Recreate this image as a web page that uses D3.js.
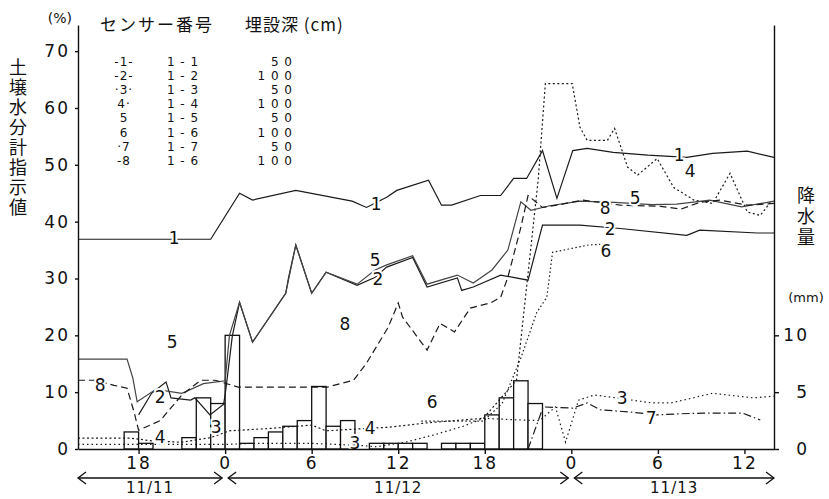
<!DOCTYPE html>
<html>
<head>
<meta charset="utf-8">
<script src="https://cdn.jsdelivr.net/npm/d3@7"></script>
<style>
body{margin:0;background:#fff}
text{font-family:"DejaVu Sans","Noto Sans CJK JP",sans-serif;fill:#111}
.jp{font-family:"Noto Sans CJK JP",sans-serif}
.vert{writing-mode:vertical-rl}
.tick text{font-size:17px;letter-spacing:2px}
.tick line,.domain{stroke:#111;stroke-width:1.4}
</style>
</head>
<body>
<svg id="chart" width="829" height="499"></svg>
<script>
// hours counted from 11/11 0:00
const hourTicks = [18,24,30,36,42,48,54,60]
const days = [['11/11',13.8,24],['11/12',24,48],['11/13',48,62.05]]
const pctTicks = [0,10,20,30,40,50,60,70]
const mmTicks = [0,5,10]

const rainHours = [17,18,21,22,23,24,25,26,27,28,29,30,31,32,34,35,36,37,39,40,41,42,43,44,45]
const rainMm = [1.5,0.5,1,4.5,4,10,0.5,1,1.5,2,2.5,5.5,2,2.5,0.5,0.5,0.5,0.5,0.5,0.5,0.5,3,4.5,6,4]

const s1 = [[13.8,36.9],[23.0,36.9],[25.0,45.0],[25.9,43.8],[28.9,45.5],[32.8,43.6],[33.8,42.5],[35.2,44.3],[35.9,45.5],[38.1,47.3],[39.0,42.9],[39.7,42.9],[41.7,44.6],[43.1,44.6],[44.0,47.6],[44.9,47.6],[46.0,52.5],[47.0,44.1],[48.1,52.5],[49.1,52.9],[50.9,52.2],[53.3,51.7],[56.0,51.3],[57.8,52.0],[60.2,52.4],[62.05,51.3]]
const s2 = [[18.0,6.0],[18.9,9.8],[19.9,11.8],[20.25,9.0],[21.6,8.6],[21.9,9.0],[22.95,6.0],[23.9,7.9],[24.06,10.7],[24.5,19.9],[25.0,25.8],[25.9,18.8],[28.2,27.4],[28.4,30.2],[28.9,35.9],[30.0,27.4],[31.0,31.1],[33.15,28.8],[34.4,30.2],[35.2,32.0],[37.0,33.7],[38.0,28.5],[40.1,30.1],[40.4,27.9],[41.2,28.5],[43.1,30.6],[45.0,29.7],[46.0,39.4],[48.6,39.4],[51.4,38.8],[56.0,37.6],[56.9,38.5],[60.9,38.0],[62.05,38.0]]
const s3 = [[13.8,0.8],[24.0,0.8],[26,1.0],[30,1.0],[33.5,0.6],[34.5,0.4],[36.5,1.2],[38.5,2.5],[40.5,4.0],[41.9,5.4],[44.5,5.1],[45.8,5.0],[46.9,7.4],[47.6,1.2],[48.5,8.6],[49.6,9.5],[51.1,9.0],[53.6,8.1],[54.9,8.1],[57.8,9.8],[60.6,9.0],[62.05,9.3]]
const s4 = [[13.8,1.9],[17.5,1.9],[19.0,1.4],[21.0,1.2],[23.0,2.0],[24.3,3.2],[27.0,3.6],[30.0,4.2],[31.0,3.2],[33.0,3.5],[35.2,3.8],[38.0,4.6],[41.9,5.4],[44.2,12.1],[45.7,47.3],[46.2,64.3],[48.06,64.3],[48.6,56.6],[49.1,54.3],[50.5,54.3],[51.0,56.4],[51.9,49.6],[52.6,48.2],[53.95,51.1],[55.1,46.0],[56.5,43.8],[57.8,43.2],[59.0,48.5],[60.2,41.7],[61.1,41.1],[61.8,43.4]]
const s5 = [[13.8,15.8],[17.2,15.8],[17.6,12.5],[17.9,8.3],[19.2,10.5],[21,9.8],[22.5,11.5],[24.0,12.0],[24.3,20.0],[25.0,25.8],[25.9,18.8],[28.2,27.4],[28.9,35.9],[30.0,27.4],[31.0,31.1],[33.15,29.0],[34.4,31.5],[35.2,32.4],[37.0,34.0],[38.0,29.0],[40.1,30.6],[41.2,29.2],[42.5,31.5],[43.6,35],[44.5,43.5],[45.2,42.0],[46.5,42.8],[48.6,43.6],[51,43.4],[53.6,43.0],[55.3,43.1],[57.6,43.8],[59.8,42.6],[62.05,43.6]]
const s6 = [[37.6,4.9],[41.9,4.9],[43.2,8.0],[44.5,16.0],[45.6,24.0],[46.3,26.7],[46.7,34.6],[49.2,35.9],[50.0,36.0]]
const s7 = [[45.0,0],[46.05,7.4],[48.1,7.2],[49.1,8.1],[50.0,6.9],[52.1,6.5],[53.95,6.0],[55.55,6.2],[57.1,6.3],[59.9,6.3],[61.1,5.1]]
const s8 = [[13.8,12.1],[15.0,12.1],[16.3,11.2],[17.2,10.7],[17.7,6.4],[18.0,3.3],[19.5,5.0],[21.0,9.5],[22.3,12.1],[23.3,12.1],[24.9,10.9],[31.1,10.9],[32.9,12.1],[33.8,15.1],[35.3,21.4],[36.0,25.7],[36.3,23.2],[38.0,17.4],[38.9,22.1],[39.9,20.6],[41.0,24.8],[42.4,25.7],[43.1,26.7],[43.6,30.2],[44.5,39.0],[45.0,44.6],[46.0,42.5],[47.0,42.9],[48.8,43.8],[51.4,42.9],[54.2,42.7],[55.6,42.2],[56.9,43.4],[58.3,43.8],[60.2,42.9],[62.05,43.2]]

const series = [s1,s2,s3,s4,s5,s6,s7,s8]
const dashes = ['none','none','1.5,3','2,2.5','none','1.5,2.5','8,3,1.5,3','7,4']

const legendMarks = ['-1-','-2-','·3·','4·','5','6','·7','-8']
const legendSensors = ['1 - 1','1 - 2','1 - 3','1 - 4','1 - 5','1 - 6','1 - 7','1 - 6']
const legendDepths = ['5 0','1 0 0','5 0','1 0 0','5 0','1 0 0','5 0','1 0 0']

const annot = [['1',20.46,37.1],['1',34.47,43.1],['1',55.48,51.7],
  ['2',19.49,9.1],['2',34.6,30.0],['2',50.69,38.8],
  ['3',23.37,3.9],['3',33.0,1.05],['3',51.53,9.0],
  ['4',19.49,2.1],['4',34.05,3.7],['4',56.24,49.0],
  ['5',20.32,18.8],['5',34.4,33.2],['5',52.43,44.1],
  ['6',38.35,8.3],['6',50.4,34.8],
  ['7',53.54,5.4],
  ['8',15.33,11.2],['8',32.3,22.1],['8',50.35,42.4]]

const svg = d3.select('#chart')

const x = d3.scaleLinear().domain([13.8,62.05]).range([78,774])
const yL = d3.scaleLinear().domain([0,74.6]).range([449,25])
const yR = d3.scaleLinear().domain([0,37.3]).range([449,25])

// rain bars (right axis)
svg.append('g').selectAll('rect')
  .data(rainHours)
  .enter().append('rect')
  .attr('x', d => x(d))
  .attr('width', d => x(d+1)-x(d))
  .attr('y', (d,i) => yR(rainMm[i]))
  .attr('height', (d,i) => yR(0)-yR(rainMm[i]))
  .attr('fill','#fff')
  .attr('stroke','#111')
  .attr('stroke-width',1.3)

const line = d3.line().x(d => x(d[0])).y(d => yL(d[1]))

svg.append('g').selectAll('path')
  .data(series)
  .enter().append('path')
  .attr('d', line)
  .attr('fill','none')
  .attr('stroke', (d,i) => i==4 ? '#444' : '#1a1a1a')
  .attr('stroke-width',1.2)
  .attr('stroke-dasharray', (d,i) => dashes[i])

svg.append('g').selectAll('text')
  .data(annot)
  .enter().append('text')
  .attr('x', d => x(d[1]))
  .attr('y', d => yL(d[2]))
  .attr('dy','0.36em')
  .attr('text-anchor','middle')
  .style('font-size','17px')
  .style('stroke','#fff')
  .style('stroke-width',4)
  .style('paint-order','stroke')
  .text(d => d[0])

// axes
const xAxis = d3.axisBottom(x).tickValues(hourTicks).tickFormat(d => d%24).tickSize(5).tickSizeOuter(0).tickPadding(3)
svg.append('g').attr('transform','translate(0,449)').call(xAxis)

const leftAxis = d3.axisLeft(yL).tickValues(pctTicks).tickSize(3).tickSizeOuter(0).tickPadding(5)
svg.append('g').attr('transform','translate(78,0)').call(leftAxis)

const rightAxis = d3.axisRight(yR).tickValues(mmTicks).tickSize(5).tickSizeOuter(0)
const gR = svg.append('g').attr('transform','translate(774,0)').call(rightAxis)
gR.selectAll('text').attr('x',35).attr('text-anchor','end')

// day arrows
const gd = svg.append('g')
days.forEach(([lab,a,b],i) => {
  const x0 = x(a)+(i>0?3:0), x1 = x(b)-(i<2?3:0)
  gd.append('line').attr('x1',x0).attr('x2',x1).attr('y1',478).attr('y2',478).attr('stroke','#111').attr('stroke-width',1.3)
  gd.append('path').attr('d',`M${x0+8},472L${x0},478L${x0+8},484`).attr('fill','none').attr('stroke','#111').attr('stroke-width',1.3)
  gd.append('path').attr('d',`M${x1-8},472L${x1},478L${x1-8},484`).attr('fill','none').attr('stroke','#111').attr('stroke-width',1.3)
  gd.append('text').attr('x',(x0+x1)/2).attr('y',493).attr('text-anchor','middle')
    .style('font-size','15px').style('letter-spacing','1px').text(lab)
})

// titles
svg.append('text').attr('x',72).attr('y',23).attr('text-anchor','end').style('font-size','14px').text('(%)')
svg.append('text').attr('class','jp vert').attr('x',18).attr('y',58)
  .style('font-size','18px').style('letter-spacing','2px').text('土壌水分計指示値')
svg.append('text').attr('class','jp vert').attr('x',806).attr('y',186)
  .style('font-size','18px').style('letter-spacing','3px').text('降水量')
svg.append('text').attr('x',806).attr('y',302).attr('text-anchor','middle').style('font-size','13px').text('(mm)')

svg.append('text').attr('class','jp').attr('x',100).attr('y',31).style('font-size','17px').style('letter-spacing','2px').text('センサー番号')
svg.append('text').attr('class','jp').attr('x',245).attr('y',31).style('font-size','17px').style('letter-spacing','1px').text('埋設深 (cm)')

// legend table
const lg = svg.append('g').style('font-size','12px').style('letter-spacing','1px')
lg.selectAll('.m').data(legendMarks).enter().append('text')
  .attr('x',124).attr('y',(d,i) => 66+i*14.1).attr('text-anchor','middle').text(d => d)
lg.selectAll('.s').data(legendSensors).enter().append('text')
  .attr('x',183).attr('y',(d,i) => 66+i*14.1).attr('text-anchor','middle').text(d => d)
lg.selectAll('.d').data(legendDepths).enter().append('text')
  .attr('x',293).attr('y',(d,i) => 66+i*14.1).attr('text-anchor','end').text(d => d)
</script>
</body>
</html>
